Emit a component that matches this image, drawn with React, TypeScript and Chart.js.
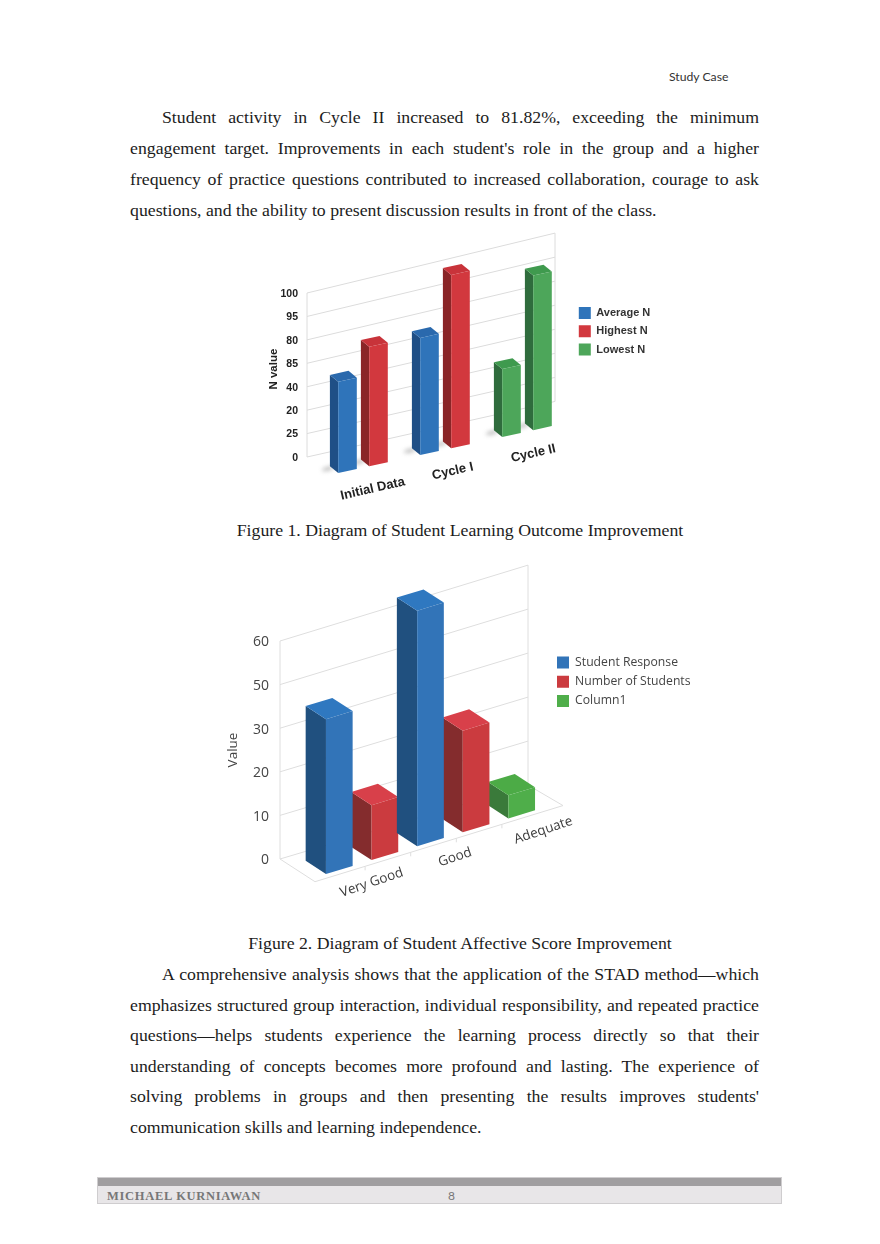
import { Chart, registerables } from 'chart.js'
import { useEffect, useRef } from 'react'

Chart.register(...registerables)

// Figure 1. The printed axis labels are not in order, so the bars are read in tick slots.
const outcomeCategories = ['Initial Data', 'Cycle I', 'Cycle II']
const outcomeTicks = ['0', '25', '20', '40', '85', '80', '95', '100']
const averageN = [3.9, 5.0, null]
const highestN = [5.1, 7.4, null]
const lowestN = [null, null, 2.9]
const lowestNSecond = [null, null, 6.6]

// Figure 2, read the same way
const affectiveCategories = ['Very Good', '', 'Good', '', 'Adequate']
const affectiveTicks = ['0', '10', '20', '30', '50', '60']
const studentResponse = [3.55, null, 5.4, null, null]
const numberOfStudents = [null, 1.26, null, 2.33, null]
const column1 = [null, null, null, null, 0.53]

const paragraphOne = [
  'Student activity in Cycle II increased to 81.82%, exceeding the minimum',
  "engagement target. Improvements in each student's role in the group and a higher",
  'frequency of practice questions contributed to increased collaboration, courage to ask',
  'questions, and the ability to present discussion results in front of the class.',
]
const paragraphTwo = [
  'A comprehensive analysis shows that the application of the STAD method\u2014which',
  'emphasizes structured group interaction, individual responsibility, and repeated practice',
  'questions\u2014helps students experience the learning process directly so that their',
  'understanding of concepts becomes more profound and lasting. The experience of',
  "solving problems in groups and then presenting the results improves students'",
  'communication skills and learning independence.',
]

const blue = { front: '#2f74ba', side: '#1f4f86', top: '#2a69ad' }
const red = { front: '#d2383e', side: '#8a2527', top: '#c8333a' }
const green = { front: '#4da65a', side: '#2f6c3d', top: '#3f9a4e' }
const blue2 = { front: '#3274b8', side: '#20507f', top: '#2f78c0' }
const red2 = { front: '#cb3b3f', side: '#842c2d', top: '#d8404a' }
const green2 = { front: '#4fae4a', side: '#3a7a3a', top: '#4cab46' }

// draws the sloped wall, the depth faces and the slanted labels around the library's bars
const depthPlugin = {
  id: 'depth',
  beforeDatasetsDraw(chart: any, _args: any, o: any) {
    const ctx = chart.ctx
    const y = chart.scales.y
    const area = chart.chartArea
    const left = area.left
    const right = left + o.wallWidth
    ctx.save()
    ctx.strokeStyle = o.gridColor
    ctx.lineWidth = 1
    let topRight = 0
    let bottomRight = 0
    o.tickLabels.forEach((_: string, i: number) => {
      const py = y.getPixelForValue(i)
      const slope = o.wallSlopeLow + (o.wallSlopeHigh - o.wallSlopeLow) * (i / (o.tickLabels.length - 1))
      const endY = py - slope * o.wallWidth
      if (i === 0) bottomRight = endY
      topRight = endY
      ctx.beginPath()
      ctx.moveTo(left, py)
      ctx.lineTo(right, endY)
      ctx.stroke()
    })
    ctx.beginPath()
    ctx.moveTo(left, y.getPixelForValue(o.tickLabels.length - 1))
    ctx.lineTo(left, y.getPixelForValue(0))
    ctx.moveTo(right, topRight)
    ctx.lineTo(right, bottomRight)
    ctx.stroke()

    if (o.floor) {
      const zero = y.getPixelForValue(0)
      const f = o.floor
      ctx.beginPath()
      ctx.moveTo(left, zero)
      ctx.lineTo(left + f.dx, zero + f.dy)
      ctx.lineTo(right + f.dx, zero + f.dy - f.slope * o.wallWidth)
      ctx.lineTo(right, bottomRight)
      ctx.stroke()
      const x = chart.scales.x
      for (let i = 0; i < x.getLabels().length - 1; i++) {
        const tx = x.getPixelForValue(i) + x.width / x.getLabels().length / 2 + o.dx + 3
        const ty = zero + f.dy - f.slope * (tx - left - f.dx)
        ctx.beginPath()
        ctx.moveTo(tx, ty)
        ctx.lineTo(tx, ty + 4)
        ctx.stroke()
      }
    }
    ctx.restore()

    // everything the library draws next goes through the slope
    ctx.save()
    ctx.transform(1, -o.slope, 0, 1, o.dx, o.drop - o.slope * (o.dx - o.pivotX))
  },
  beforeDatasetDraw(chart: any, args: any, o: any) {
    const ctx = chart.ctx
    const ds = chart.data.datasets[args.index]
    const du = o.depthX
    const dv = o.depthY + o.slope * o.depthX
    args.meta.data.forEach((el: any, i: number) => {
      if (ds.data[i] === null) return
      const x0 = el.x - el.width / 2
      const x1 = el.x + el.width / 2
      if (o.shadow) {
        ctx.save()
        ctx.filter = 'blur(2px)'
        ctx.fillStyle = 'rgba(90,90,90,0.4)'
        ctx.beginPath()
        ctx.ellipse(x0 + du - 2, el.base + dv + 2, 6, 2, 0, 0, Math.PI * 2)
        ctx.fill()
        ctx.restore()
      }
      ctx.fillStyle = ds.sideColor
      ctx.beginPath()
      ctx.moveTo(x0, el.y)
      ctx.lineTo(x0 + du, el.y + dv)
      ctx.lineTo(x0 + du, el.base + dv)
      ctx.lineTo(x0, el.base)
      ctx.closePath()
      ctx.fill()
      ctx.fillStyle = ds.topColor
      ctx.beginPath()
      ctx.moveTo(x0, el.y)
      ctx.lineTo(x1, el.y)
      ctx.lineTo(x1 + du, el.y + dv)
      ctx.lineTo(x0 + du, el.y + dv)
      ctx.closePath()
      ctx.fill()
    })
  },
  afterDatasetsDraw(chart: any, _args: any, o: any) {
    const ctx = chart.ctx
    const x = chart.scales.x
    const zero = chart.scales.y.getPixelForValue(0)
    // category labels, still in the sloped frame for their position only
    x.getLabels().forEach((label: string, i: number) => {
      if (!label) return
      const px = x.getPixelForValue(i) + o.labelDx[i]
      const py = zero + o.labelDy
      const m = ctx.getTransform()
      const sx = m.a * px + m.c * py + m.e
      const sy = m.b * px + m.d * py + m.f
      ctx.save()
      ctx.setTransform(1, 0, 0, 1, 0, 0)
      ctx.translate(sx, sy)
      ctx.rotate((o.labelAngle * Math.PI) / 180)
      ctx.font = o.labelFont
      ctx.fillStyle = o.labelColor
      ctx.textAlign = 'center'
      ctx.textBaseline = 'middle'
      ctx.fillText(label, 0, 0)
      ctx.restore()
    })
    ctx.restore()
  },
  afterLayout(chart: any, _args: any, o: any) {
    // the legend sits beside the wall, outside the plot; its draw clips to this box
    const legend = chart.legend
    legend.left = o.legendX
    legend.top = o.legendY
    legend.right = o.legendX + legend.width + 10
    legend.bottom = o.legendY + legend.height + 10
  },
}

function barDataset(label: string, data: (number | null)[], c: any) {
  return { label, data, backgroundColor: c.front, sideColor: c.side, topColor: c.top, clip: false as any }
}

function SlopedBarChart({ box, labels, datasets, ticks, yMax, padding, scaleWidth, pitch, legend, depth, yStyle, title, hide }: any) {
  const chartRef = useRef<HTMLCanvasElement>(null)

  useEffect(() => {
    if (!chartRef.current) return
    const chart = new Chart(chartRef.current, {
      type: 'bar',
      data: { labels, datasets },
      plugins: [depthPlugin],
      options: {
        responsive: false,
        animation: false,
        layout: { padding },
        datasets: { bar: { skipNull: true, categoryPercentage: pitch.category, barPercentage: pitch.bar } },
        scales: {
          x: { display: false },
          y: {
            min: 0,
            max: yMax,
            afterFit: (s: any) => { s.width = scaleWidth },
            grid: { display: false },
            border: { display: false },
            ticks: {
              stepSize: 1,
              autoSkip: false,
              includeBounds: false,
              padding: yStyle.padding,
              labelOffset: yStyle.labelOffset,
              color: yStyle.color,
              font: yStyle.font,
              callback: (v: any) => ticks[v] ?? '',
            },
            title: { display: true, text: title, color: yStyle.color, font: yStyle.titleFont, padding: yStyle.titlePadding },
          },
        },
        plugins: {
          tooltip: { enabled: false },
          legend: {
            position: 'chartArea',
            align: 'start',
            labels: {
              boxWidth: 12,
              boxHeight: 12,
              padding: legend.padding,
              color: legend.color,
              font: legend.font,
              filter: (item: any) => item.datasetIndex !== hide,
            },
          },
          depth: { ...depth, tickLabels: ticks, legendX: legend.x, legendY: legend.y },
        },
      } as any,
    })
    return () => chart.destroy()
  }, [])

  return (
    <canvas
      ref={chartRef}
      width={box.w}
      height={box.h}
      style={{ position: 'absolute', left: box.x, top: box.y, width: box.w, height: box.h }}
    />
  )
}

const serif = '"Liberation Serif", serif'
const bodyFont = `17.75px/20px ${serif}`

function Line({ text, y, indent, justify }: any) {
  return (
    <div
      style={{
        position: 'absolute',
        left: indent ? 162 : 130,
        width: indent ? 597 : 629,
        top: y - 10,
        whiteSpace: justify ? 'normal' : 'nowrap',
        textAlign: justify ? 'justify' : 'left',
        textAlignLast: justify ? 'justify' : 'left',
        font: bodyFont,
        color: '#1c1c1c',
      }}
    >
      {text}
    </div>
  )
}

export default function App() {
  const sansBold = 'Liberation Sans'
  return (
    <div style={{ position: 'absolute', left: 0, top: 0, width: 880, height: 1244, background: '#fff', overflow: 'hidden' }}>
      <div style={{ position: 'absolute', left: 669, top: 70, font: '12.2px/14px Lato, sans-serif', color: '#333' }}>Study Case</div>

      {paragraphOne.map((t, i) => (
        <Line key={i} text={t} y={117 + i * 31} indent={i === 0} justify={i < 3} />
      ))}

      <SlopedBarChart
        box={{ x: 254, y: 232, w: 408, h: 276 }}
        labels={outcomeCategories}
        datasets={[
          barDataset('Average N', averageN, blue),
          barDataset('Highest N', highestN, red),
          barDataset('Lowest N', lowestN, green),
          barDataset('Lowest N', lowestNSecond, green),
        ]}
        hide={3}
        ticks={outcomeTicks}
        yMax={7.5}
        title="N value"
        padding={{ left: 10, top: 49.3, right: 109, bottom: 51 }}
        scaleWidth={43}
        pitch={{ category: 0.756, bar: 0.6 }}
        yStyle={{
          padding: 1,
          labelOffset: 1,
          color: '#222',
          font: { family: sansBold, size: 10.5, weight: 'bold' },
          titleFont: { family: sansBold, size: 11.5, weight: 'bold' },
          titlePadding: 3,
        }}
        legend={{ x: 318.5, y: 68.7, padding: 6.3, color: '#333', font: { family: sansBold, size: 11, weight: 'bold' } }}
        depth={{
          wallWidth: 248,
          wallSlopeLow: 0.224,
          wallSlopeHigh: 0.2416,
          gridColor: '#dcdcdc',
          slope: 0.22,
          dx: 15,
          drop: 16.3,
          pivotX: 83.3,
          depthX: -8.3,
          depthY: -6.8,
          shadow: true,
          labelDx: [9.7, 7.7, 6.3],
          labelDy: 23.4,
          labelAngle: -12.8,
          labelFont: 'bold 13px "Liberation Sans"',
          labelColor: '#222',
        }}
      />

      <div style={{ position: 'absolute', left: 0, width: 920, top: 520, textAlign: 'center', font: bodyFont, color: '#1c1c1c' }}>
        Figure 1. Diagram of Student Learning Outcome Improvement
      </div>

      <SlopedBarChart
        box={{ x: 220, y: 560, w: 480, h: 360 }}
        labels={affectiveCategories}
        datasets={[
          barDataset('Student Response', studentResponse, blue2),
          barDataset('Number of Students', numberOfStudents, red2),
          barDataset('Column1', column1, green2),
        ]}
        hide={-1}
        ticks={affectiveTicks}
        yMax={5}
        title="Value"
        padding={{ left: 2, top: 81, right: 192, bottom: 61 }}
        scaleWidth={58}
        pitch={{ category: 1, bar: 0.585 }}
        yStyle={{
          padding: 3,
          labelOffset: 1.5,
          color: '#444',
          font: { family: 'Open Sans', size: 14 },
          titleFont: { family: 'Open Sans', size: 13.5 },
          titlePadding: 3,
        }}
        legend={{ x: 330, y: 89.5, padding: 7, color: '#444', font: { family: 'Open Sans', size: 12.2 } }}
        depth={{
          wallWidth: 248,
          wallSlopeLow: 0.298,
          wallSlopeHigh: 0.306,
          gridColor: '#dedede',
          slope: 0.305,
          dx: 36.5,
          drop: 15,
          pivotX: 106,
          depthX: -20.3,
          depthY: -13.2,
          shadow: false,
          floor: { dx: 35, dy: 22.7, slope: 0.307 },
          labelDx: [32.4, 0, 24.5, 0, 21.6],
          labelDy: 22.7,
          labelAngle: -18.7,
          labelFont: '13.5px "Open Sans"',
          labelColor: '#3c3c3c',
        }}
      />

      <div style={{ position: 'absolute', left: 0, width: 920, top: 933, textAlign: 'center', font: bodyFont, color: '#1c1c1c' }}>
        Figure 2. Diagram of Student Affective Score Improvement
      </div>

      {paragraphTwo.map((t, i) => (
        <Line key={i} text={t} y={974 + i * 30.6} indent={i === 0} justify={i < 5} />
      ))}

      <div style={{ position: 'absolute', left: 97, top: 1177, width: 683, height: 25, background: '#e8e6e8', border: '1px solid #cfcdcf' }}>
        <div style={{ height: 8, background: '#a09ea0' }} />
        <div style={{ position: 'absolute', left: 9, top: 11, font: `bold 12.5px/14px ${serif}`, letterSpacing: 0.7, color: '#777' }}>MICHAEL KURNIAWAN</div>
        <div style={{ position: 'absolute', left: 350, top: 11, font: '12px/14px Lato, sans-serif', color: '#777' }}>8</div>
      </div>
    </div>
  )
}
